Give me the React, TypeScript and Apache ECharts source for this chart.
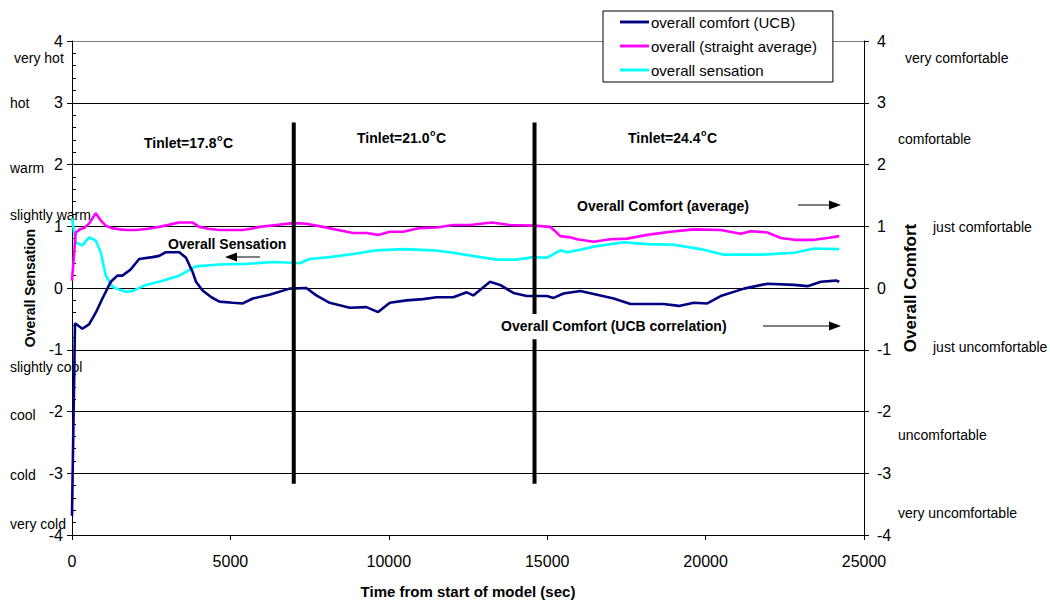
import React, { useEffect, useRef } from "react";
import * as echarts from "echarts";

const FONT = "'Liberation Sans', Arial, sans-serif";

// x: time (s), y: value
const comfortUCB: [number, number][] = [
  [0, -3.69], [95, -0.57], [326, -0.66], [538, -0.59], [750, -0.4], [960, -0.17], [1224, 0.1], [1434, 0.2],
  [1592, 0.2], [1850, 0.3], [2120, 0.47], [2541, 0.5], [2753, 0.52], [2965, 0.58], [3386, 0.58], [3598, 0.49],
  [3807, 0.26], [3914, 0.1], [4123, -0.04], [4400, -0.15], [4652, -0.22], [5073, -0.24], [5390, -0.25],
  [5706, -0.17], [6234, -0.11], [6867, -0.01], [7395, 0.0], [7712, -0.12], [8133, -0.24], [8766, -0.32],
  [9293, -0.31], [9662, -0.39], [10032, -0.24], [10560, -0.2], [11085, -0.18], [11509, -0.15], [12035, -0.15],
  [12459, -0.07], [12668, -0.12], [13196, 0.1], [13513, 0.05], [13934, -0.08], [14357, -0.13], [14990, -0.13],
  [15200, -0.16], [15516, -0.09], [16044, -0.05], [16573, -0.11], [17098, -0.17], [17627, -0.26], [18155, -0.26],
  [18680, -0.26], [19155, -0.29], [19630, -0.24], [20054, -0.25], [20475, -0.13], [21212, -0.01], [21952, 0.07],
  [22795, 0.05], [23218, 0.03], [23639, 0.1], [24114, 0.12], [24219, 0.1],
];

const comfortAverage: [number, number][] = [
  [0, 0.12], [117, 0.9], [250, 0.95], [380, 0.97], [550, 1.05], [750, 1.21], [900, 1.1], [1066, 1.01],
  [1250, 0.97], [1487, 0.95], [1750, 0.94], [2015, 0.94], [2400, 0.96], [2753, 0.99], [3100, 1.03], [3386, 1.06],
  [3807, 1.06], [4019, 0.99], [4300, 0.96], [4652, 0.94], [5000, 0.94], [5390, 0.94], [5650, 0.96], [5918, 0.99],
  [6446, 1.02], [6972, 1.05], [7395, 1.04], [7922, 0.99], [8400, 0.94], [8870, 0.89], [9293, 0.89], [9662, 0.86],
  [10032, 0.91], [10453, 0.91], [10981, 0.97], [11509, 0.98], [12035, 1.02], [12563, 1.02], [13250, 1.06],
  [13829, 1.02], [14567, 1.01], [15095, 0.99], [15250, 0.92], [15411, 0.84], [15728, 0.82], [15939, 0.79],
  [16466, 0.75], [16994, 0.79], [17522, 0.8], [18155, 0.86], [18892, 0.91], [19630, 0.95], [20475, 0.94],
  [21108, 0.88], [21424, 0.92], [21952, 0.9], [22373, 0.81], [22795, 0.78], [23428, 0.78], [23851, 0.81],
  [24219, 0.84],
];

const sensation: [number, number][] = [
  [0, 1.13], [117, 0.74], [326, 0.69], [538, 0.82], [750, 0.77], [908, 0.58], [1066, 0.2], [1276, 0.02],
  [1500, -0.03], [1699, -0.06], [1908, -0.05], [2331, 0.05], [2753, 0.1], [3386, 0.2], [3914, 0.35], [4652, 0.38],
  [5497, 0.39], [6339, 0.42], [6972, 0.41], [7184, 0.4], [7500, 0.47], [8133, 0.5], [8870, 0.55], [9610, 0.61],
  [10453, 0.63], [11402, 0.61], [12035, 0.57], [12880, 0.5], [13408, 0.46], [14041, 0.46], [14567, 0.5],
  [14990, 0.49], [15200, 0.55], [15411, 0.61], [15623, 0.58], [16044, 0.62], [16466, 0.67], [17415, 0.74],
  [18155, 0.71], [18997, 0.7], [19842, 0.63], [20580, 0.54], [21741, 0.54], [22795, 0.57], [23428, 0.64],
  [24219, 0.63],
];

// inlet-temperature change markers (time, value) segment ends
const dividers: [number, number][][] = [
  [[7000, 2.68], [7000, -3.17]],
  [[14600, 2.68], [14600, -0.42]],
  [[14600, -0.83], [14600, -3.17]],
];

const seriesNames = ["overall comfort (UCB)", "overall (straight average)", "overall sensation"];
const seriesColors = ["#000080", "#FF00FF", "#00FFFF"];

const sensationLabels: [string, number, number][] = [
  ["very hot", 14, 58],
  ["hot", 10, 103],
  ["warm", 10, 168],
  ["slightly warm", 10, 215],
  ["slightly cool", 10, 367],
  ["cool", 10, 415],
  ["cold", 10, 475],
  ["very cold", 10, 524],
];

const comfortLabels: [string, number, number][] = [
  ["very comfortable", 905, 58],
  ["comfortable", 898, 139],
  ["just comfortable", 933, 227],
  ["just uncomfortable", 933, 347],
  ["uncomfortable", 898, 435],
  ["very uncomfortable", 898, 513],
];

const tinletLabels: [string, number, number][] = [
  ["17.8", 144, 143],
  ["21.0", 357, 138],
  ["24.4", 628, 138],
];

function measure(text: string, font: string): number {
  const c = document.createElement("canvas").getContext("2d");
  if (!c) return text.length * 7;
  c.font = font;
  return c.measureText(text).width;
}

export default function App() {
  const ref = useRef<HTMLDivElement>(null);
  useEffect(() => {
    if (!ref.current) return;
    const chart = echarts.init(ref.current, null, { renderer: "svg" });

    const graphic: any[] = [];
    const plain = (t: string, x: number, y: number) => ({
      type: "text", x, y,
      style: { text: t, fontSize: 14, fontFamily: FONT, fill: "#000", align: "left", verticalAlign: "middle" },
    });
    const boldText = (t: string, x: number, y: number, size = 14) => ({
      type: "text", x, y,
      style: { text: t, fontSize: size, fontWeight: "bold", fontFamily: FONT, fill: "#000", align: "left", verticalAlign: "middle" },
    });
    sensationLabels.forEach(([t, x, y]) => graphic.push(plain(t, x, y)));
    comfortLabels.forEach(([t, x, y]) => graphic.push(plain(t, x, y)));

    const boldFont = "bold 14px " + FONT;
    const supFont = "bold 9px " + FONT;
    tinletLabels.forEach(([v, x, y]) => {
      const main = "Tinlet=" + v;
      const w = measure(main, boldFont);
      const wo = measure("o", supFont);
      graphic.push(boldText(main, x, y));
      graphic.push(boldText("o", x + w + 0.5, y - 5, 9));
      graphic.push(boldText("C", x + w + wo + 1, y));
    });
    graphic.push(boldText("Overall Sensation", 168, 244));
    graphic.push(boldText("Overall Comfort (average)", 577, 206));
    graphic.push(boldText("Overall Comfort (UCB correlation)", 501, 326));
    const arrow = (x1: number, x2: number, y: number) => {
      const dir = x2 > x1 ? 1 : -1;
      const base = x2 - dir * 12;
      graphic.push({ type: "line", shape: { x1, y1: y, x2: base, y2: y }, style: { stroke: "#000", lineWidth: 1 } });
      graphic.push({
        type: "polygon",
        shape: { points: [[x2, y], [base, y - 4.5], [base, y + 4.5]] },
        style: { fill: "#000" },
      });
    };
    arrow(260, 225, 257);
    arrow(798, 841, 205);
    arrow(763, 841, 326);

    const splitColors = ["#000", "#000", "#000", "#000", "#000", "#000", "#000", "#000", "#808080"];

    const series: any[] = [comfortUCB, comfortAverage, sensation].map((d, i) => ({
      name: seriesNames[i],
      type: "line",
      data: d,
      symbol: "none",
      lineStyle: { color: seriesColors[i], width: 2.6 },
      itemStyle: { color: seriesColors[i] },
      z: 3 + (2 - i),
    }));
    dividers.forEach((d, i) =>
      series.push({
        name: "divider" + i,
        type: "line",
        data: d,
        symbol: "none",
        lineStyle: { color: "#000", width: 4 },
        itemStyle: { color: "#000" },
        z: 6,
        silent: true,
      })
    );

    chart.setOption({
      animation: false,
      backgroundColor: "#fff",
      textStyle: { fontFamily: FONT },
      grid: { left: 72, right: 186, top: 41, bottom: 66, containLabel: false },
      legend: {
        data: seriesNames,
        orient: "vertical",
        left: 603,
        top: 11,
        padding: [3, 16, 4, 17],
        itemGap: 8,
        itemWidth: 29,
        itemHeight: 3,
        icon: "path://M0,0H30V3H0Z",
        backgroundColor: "#fff",
        borderColor: "#000",
        borderWidth: 1,
        borderRadius: 0,
        textStyle: { fontSize: 15, fontFamily: FONT, color: "#000", padding: [0, 0, 0, -3], lineHeight: 16, height: 16 },
      },
      xAxis: {
        type: "value",
        min: 0,
        max: 25000,
        interval: 5000,
        name: "Time from start of model (sec)",
        nameLocation: "middle",
        nameGap: 49,
        nameTextStyle: { fontSize: 15, fontWeight: "bold", color: "#000", fontFamily: FONT },
        axisLine: { show: true, onZero: false, lineStyle: { color: "#000", width: 1 } },
        axisTick: { show: true, length: 5, lineStyle: { color: "#000" } },
        axisLabel: { fontSize: 16, color: "#000", margin: 18, fontFamily: FONT, formatter: (v: number) => String(v) },
        splitLine: { show: false },
      },
      yAxis: [
        {
          type: "value",
          min: -4,
          max: 4,
          interval: 1,
          position: "left",
          name: "Overall Sensation",
          nameLocation: "middle",
          nameRotate: 90,
          nameGap: 35,
          nameTextStyle: { fontSize: 14, fontWeight: "bold", color: "#000", fontFamily: FONT },
          axisLine: { show: true, onZero: false, lineStyle: { color: "#000", width: 1 } },
          axisTick: { show: true, length: 5, lineStyle: { color: "#000" } },
          axisLabel: { fontSize: 16, color: "#000", margin: 9, fontFamily: FONT },
          splitLine: { show: true, lineStyle: { color: splitColors, width: 1 } },
        },
        {
          type: "value",
          min: -4,
          max: 4,
          interval: 1,
          position: "right",
          name: "Overall Comfort",
          nameLocation: "middle",
          nameRotate: 90,
          nameGap: 36,
          nameTextStyle: { fontSize: 17, fontWeight: "bold", color: "#000", fontFamily: FONT },
          axisLine: { show: true, onZero: false, lineStyle: { color: "#000", width: 1 } },
          axisTick: { show: true, length: 5, lineStyle: { color: "#000" } },
          axisLabel: { fontSize: 16, color: "#000", margin: 13, fontFamily: FONT },
          splitLine: { show: false },
        },
        {
          type: "value",
          min: -4,
          max: 4,
          interval: 1,
          position: "left",
          axisLine: { show: false, onZero: false },
          axisTick: { show: false, inside: true },
          minorTick: { show: true, splitNumber: 5, length: 4, lineStyle: { color: "#000", width: 1 } },
          axisLabel: { show: false },
          splitLine: { show: false },
          minorSplitLine: { show: false },
        },
      ],
      series,
      graphic,
    });
    return () => chart.dispose();
  }, []);
  return (
    <div
      ref={ref}
      style={{ position: "fixed", left: 0, top: 0, width: 1050, height: 604, background: "#fff" }}
    />
  );
}
